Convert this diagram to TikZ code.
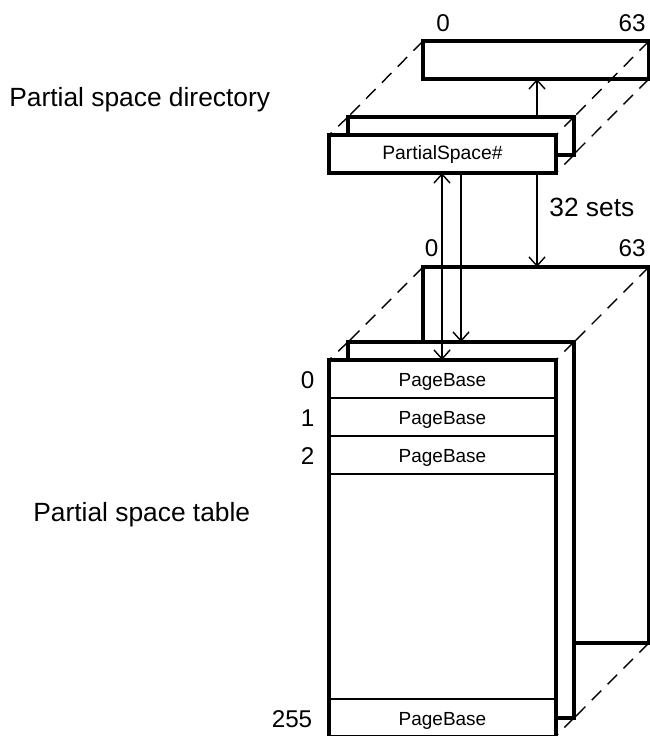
\documentclass[tikz,border=0pt]{standalone}
\usepackage{fontspec}
\setmainfont{Liberation Sans}
\usetikzlibrary{arrows.meta}
\begin{document}
\begin{tikzpicture}[
  x=0.02cm, y=-0.02cm,
  slab/.style={
    draw=black, fill=white, rectangle, line width=1.8pt,
    minimum width=4.52cm, minimum height=0.76cm,
    inner sep=0pt, outer sep=0pt, anchor=north west
  },
  tall/.style={slab, minimum height=7.52cm},
  row/.style={
    draw=black, fill=white, rectangle, line width=0.8pt,
    minimum width=4.54cm, minimum height=0.76cm,
    inner sep=0pt, outer sep=0pt, anchor=north west, font=\fontsize{10.8}{12}\selectfont,
    text height=0.52cm, text depth=0.2cm
  },
  lbl/.style={font=\fontsize{15}{17}\selectfont, inner sep=0pt},
  num/.style={font=\fontsize{13.8}{15}\selectfont, inner sep=0pt},
  edge/.style={dash pattern=on 0.27cm off 0.18cm, line width=0.8pt},
  arr/.style={-{Straight Barb[length=0.18cm,width=0.32cm]}, line width=0.8pt}
]
\useasboundingbox (0,0) rectangle (649,736);

%% ── Directory ────────────────────────────────────────────────
\node[slab] (dback) at (423, 41) {};
\draw[edge] (dback.north west) -- (348,117) coordinate (dmidnw);
\draw[edge] (dback.north east) -- (574,117) coordinate (dmidne);
\draw[edge] (dback.south east) -- (574,154) coordinate (dmidse);
\node[slab] (dmid) at (dmidnw) {};
\draw[edge] (dmid.north west) -- (329,135) coordinate (dfrontnw);
\draw[edge] (dmid.north east) -- (556,135) coordinate (dfrontne);
\draw[edge] (dmid.south east) -- (556,173) coordinate (dfrontse);
\node[slab, minimum width=4.54cm, font=\fontsize{11}{12}\selectfont,
  text height=0.46cm, text depth=0.22cm] (dfront) at (dfrontnw) {PartialSpace\#};

%% ── Table ────────────────────────────────────────────────────
\node[tall] (tback) at (423, 267) {};
\draw[edge] (tback.north west) -- (348,342) coordinate (tmidnw);
\draw[edge] (tback.north east) -- (574,342) coordinate (tmidne);
\draw[edge] (tback.south east) -- (574,718) coordinate (tmidse);
\node[tall] (tmid) at (tmidnw) {};
\draw[edge] (tmid.north west) -- (329,360) coordinate (tfrontnw);
\draw[edge] (tmid.north east) -- (556,360) coordinate (tfrontne);
\draw[edge] (tmid.south east) -- (556,736) coordinate (tfrontse);
\node[tall, minimum width=4.54cm] (tfront) at (tfrontnw) {};

\node[row] (row0) at (329, 360) {PageBase};
\node[row] (row1) at (329, 398) {PageBase};
\node[row] (row2) at (329, 436) {PageBase};
\node[row, minimum height=0.74cm] (rowl) at (329, 699) {PageBase};
\draw[line width=1.8pt] (tfront.south west) -- (tfront.north west) -- (tfront.north east) -- (tfront.south east);

%% ── Arrows ───────────────────────────────────────────────────
\coordinate (xa) at (442, 0);
\coordinate (xb) at (461, 0);
\coordinate (xc) at (537, 0);
\draw[arr] (dmid.north -| xc) -- (dback.south -| xc);
\draw[arr, {Straight Barb[length=0.18cm,width=0.32cm]}-{Straight Barb[length=0.18cm,width=0.32cm]}] (dfront.south -| xa) -- (tfront.north -| xa);
\draw[arr] (dfront.south -| xb) -- (tmid.north -| xb);
\draw[arr] (dfront.south -| xc) -- (tback.north -| xc);

%% ── Labels ───────────────────────────────────────────────────
\node[num] (dtop0)  at (443, 23.5) {0};
\node[num] (dtop63) at (632, 23.5) {63};
\node[lbl, anchor=west] (dname) at (9, 100) {Partial space directory};
\node[lbl, anchor=west] (sets)  at (549, 207) {32 sets};
\node[num] (ttop0)  at (431.5, 248.5) {0};
\node[num] (ttop63) at (632, 248.5) {63};
\node[lbl, anchor=west] (tname) at (33, 515) {Partial space table};
\node[num] (idx0) at (307.5, 380) {0};
\node[num] (idx1) at (307.5, 418) {1};
\node[num] (idx2) at (307.5, 456) {2};
\node[num] (idxl) at (292, 719) {255};

\end{tikzpicture}
\end{document}
